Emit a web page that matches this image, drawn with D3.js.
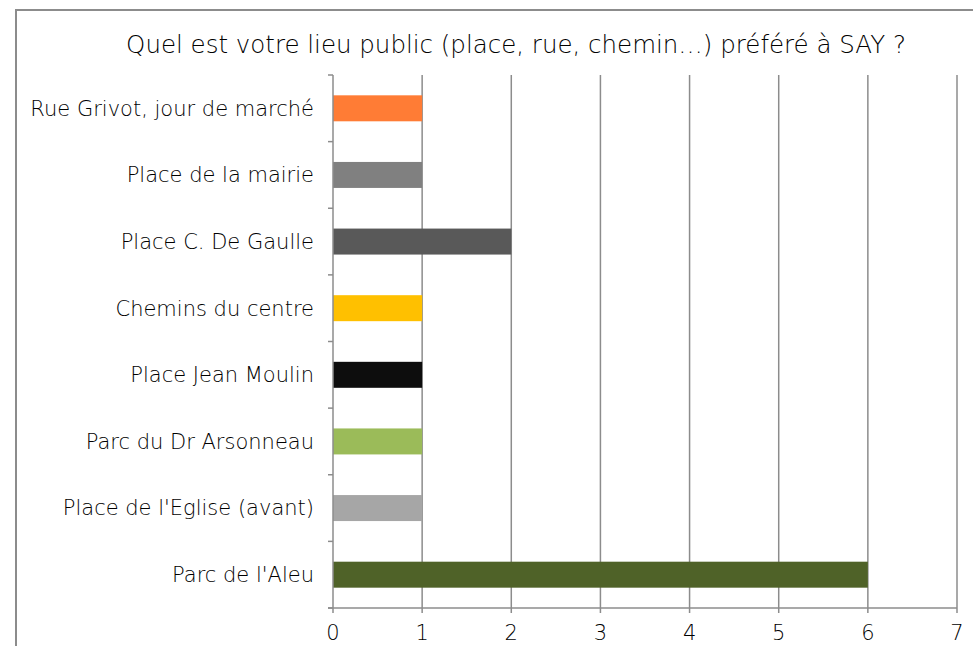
<!DOCTYPE html>
<html lang="fr">
<head>
  <meta charset="UTF-8">
  <title>Lieu public préféré à SAY</title>
  <script src="https://d3js.org/d3.v7.min.js"></script>
  <style type="text/css">
    body { margin: 0; background: #fff; }
    text { font-family: "DejaVu Sans", sans-serif; font-weight: 200; fill: #000; }
  </style>
</head>
<body>
<script type="text/javascript">
  var places = ["Rue Grivot, jour de marché", "Place de la mairie", "Place C. De Gaulle",
                "Chemins du centre", "Place Jean Moulin", "Parc du Dr Arsonneau",
                "Place de l'Eglise (avant)", "Parc de l'Aleu"];
  var counts = [1, 1, 2, 1, 1, 1, 1, 6];
  var colors = ["#ff7c35", "#808080", "#595959", "#ffc000", "#0d0d0d", "#9bbb59", "#a6a6a6", "#4f6228"];
  var xTicks = [0, 1, 2, 3, 4, 5, 6, 7];
  var title = "Quel est votre lieu public (place, rue, chemin…) préféré à SAY ?";

  var width = 973, height = 646;
  var plotLeft = 333, plotRight = 957, plotTop = 75, plotBottom = 608;

  var svg = d3.select("body").append("svg")
              .attr("width", width)
              .attr("height", height);

  // chart frame, cut by the window on right and bottom
  svg.append("rect")
     .attr("x", 16).attr("y", 10)
     .attr("width", 1000).attr("height", 700)
     .attr("fill", "none")
     .attr("stroke", "#8c8c8c")
     .attr("stroke-width", 2);

  svg.append("text")
     .attr("x", 516).attr("y", 53)
     .attr("text-anchor", "middle")
     .style("font-size", "24.5px")
     .text(title);

  var x = d3.scaleLinear().domain([0, 7]).range([plotLeft, plotRight]);
  var y = d3.scaleBand().domain(places).range([plotTop, plotBottom]).paddingInner(0.61).paddingOuter(0.305);
  var yEdge = d3.scaleLinear().domain([0, places.length]).range([plotTop, plotBottom]);

  // vertical gridlines
  svg.append("g").selectAll("line")
     .data(xTicks.slice(1))
     .enter().append("line")
     .attr("x1", function(d){ return x(d); })
     .attr("x2", function(d){ return x(d); })
     .attr("y1", plotTop).attr("y2", plotBottom + 5)
     .attr("stroke", "#8c8c8c")
     .attr("stroke-width", 1.5);

  // bars
  svg.append("g").selectAll("rect")
     .data(places)
     .enter().append("rect")
     .attr("x", x(0))
     .attr("y", function(d){ return y(d); })
     .attr("width", function(d, i){ return x(counts[i]) - x(0); })
     .attr("height", y.bandwidth())
     .attr("fill", function(d, i){ return colors[i]; });

  // y axis line and ticks at band edges
  svg.append("line")
     .attr("x1", plotLeft).attr("x2", plotLeft)
     .attr("y1", plotTop).attr("y2", plotBottom + 5)
     .attr("stroke", "#8c8c8c").attr("stroke-width", 1.5);
  svg.append("g").selectAll("line")
     .data(d3.range(places.length + 1))
     .enter().append("line")
     .attr("x1", plotLeft - 5).attr("x2", plotLeft)
     .attr("y1", function(d){ return yEdge(d); })
     .attr("y2", function(d){ return yEdge(d); })
     .attr("stroke", "#8c8c8c").attr("stroke-width", 1.5);

  // x axis line
  svg.append("line")
     .attr("x1", plotLeft - 5).attr("x2", plotRight)
     .attr("y1", plotBottom).attr("y2", plotBottom)
     .attr("stroke", "#8c8c8c").attr("stroke-width", 1.5);

  svg.append("g").selectAll("text")
     .data(xTicks)
     .enter().append("text")
     .attr("x", function(d){ return x(d); })
     .attr("y", 640)
     .attr("text-anchor", "middle")
     .style("font-size", "21px")
     .text(function(d){ return d; });

  svg.append("g").selectAll("text")
     .data(places)
     .enter().append("text")
     .attr("x", 314)
     .attr("y", function(d){ return y(d) + y.bandwidth() / 2; })
     .attr("dy", "0.35em")
     .attr("text-anchor", "end")
     .style("font-size", "21px")
     .text(function(d){ return d; });
</script>
</body>
</html>
